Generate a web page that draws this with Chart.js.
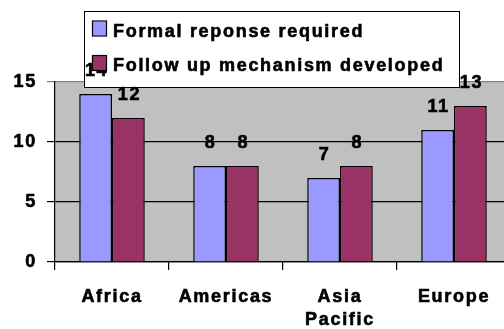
<!DOCTYPE html>
<html>
<head>
<meta charset="utf-8">
<script src="https://cdn.jsdelivr.net/npm/chart.js@4.4.0/dist/chart.umd.min.js"></script>
<style>
  html, body { margin: 0; padding: 0; background: #fff; overflow: hidden; }
  #wrap { position: relative; width: 512px; height: 329px; }
</style>
</head>
<body>
<div id="wrap"><canvas id="c"></canvas></div>
<script>
// ---- data ----
const categories = ['Africa', 'Americas', ['Asia', 'Pacific'], 'Europe'];
const seriesNames = ['Formal reponse required', 'Follow up mechanism developed'];
const formalResponse = [14, 8, 7, 11];
const followUp = [12, 8, 8, 13];
const yTicks = [0, 5, 10, 15];

const FONT = '"Liberation Sans", Arial, sans-serif';
const SPACING = '1.7px';
const STROKE = 0.6;
const colors = ['#9999FF', '#993366'];

Chart.defaults.font.family = FONT;
Chart.defaults.font.size = 18;
Chart.defaults.font.weight = 'bold';
Chart.defaults.color = '#000';

function heavyText(ctx, s, x, y) {
  ctx.lineWidth = STROKE;
  ctx.strokeStyle = '#000';
  ctx.fillStyle = '#000';
  ctx.strokeText(s, x, y);
  ctx.fillText(s, x, y);
}

const spacingPlugin = {
  id: 'spacing',
  beforeUpdate(c) { c.ctx.letterSpacing = SPACING; },
  beforeDraw(c) { c.ctx.letterSpacing = SPACING; }
};

const plotBg = {
  id: 'plotBg',
  beforeDraw(c) {
    const a = c.chartArea, ctx = c.ctx;
    ctx.save();
    ctx.fillStyle = '#C0C0C0';
    ctx.fillRect(a.left, a.top, a.right - a.left, a.bottom - a.top);
    ctx.restore();
  }
};

// legend box, then value labels, then legend keys/text on top
const overlay = {
  id: 'overlay',
  afterDraw(c) {
    const ctx = c.ctx;
    ctx.save();
    ctx.fillStyle = '#fff';
    ctx.fillRect(85, 12, 375, 75);
    ctx.strokeStyle = '#000';
    ctx.lineWidth = 1;
    ctx.strokeRect(84.5, 11.5, 375, 76);

    ctx.font = 'bold 18px ' + FONT;
    ctx.textAlign = 'center';
    ctx.textBaseline = 'alphabetic';
    c.data.datasets.forEach((ds, di) => {
      const meta = c.getDatasetMeta(di);
      meta.data.forEach((el, i) => {
        heavyText(ctx, String(ds.data[i]), el.x + 1, el.y - 18);
      });
    });

    ctx.textAlign = 'left';
    const rows = [36.5, 71];
    c.data.datasets.forEach((ds, i) => {
      const y = rows[i];
      ctx.fillStyle = ds.backgroundColor;
      ctx.fillRect(93, y - 15, 14, 14);
      ctx.strokeStyle = '#000';
      ctx.lineWidth = 1.2;
      ctx.strokeRect(92.5, y - 15.5, 14, 15);
      heavyText(ctx, ds.label, 113, y);
    });
    ctx.restore();
  }
};

new Chart(document.getElementById('c'), {
  type: 'bar',
  data: {
    labels: categories,
    datasets: [
      { label: seriesNames[0], data: formalResponse, backgroundColor: colors[0], borderColor: '#000', borderWidth: 1.5 },
      { label: seriesNames[1], data: followUp, backgroundColor: colors[1], borderColor: '#000', borderWidth: 1.5 }
    ]
  },
  options: {
    responsive: true,
    maintainAspectRatio: false,
    animation: false,
    devicePixelRatio: 1,
    layout: { padding: { top: 82, right: 1, left: 0, bottom: 0 } },
    plugins: { legend: { display: false }, tooltip: { enabled: false } },
    datasets: { bar: { categoryPercentage: 0.575, barPercentage: 1.0 } },
    scales: {
      x: {
        grid: { drawOnChartArea: false, drawTicks: true, tickLength: 8, color: '#000', lineWidth: 1.2, offset: true },
        border: { display: true, color: '#000', width: 1.2 },
        ticks: { padding: 15, font: { size: 18, weight: 'bold', lineHeight: 1.3 }, maxRotation: 0, autoSkip: false,
                 textStrokeColor: '#000', textStrokeWidth: STROKE },
        afterFit(s) { s.height = 67; }
      },
      y: {
        min: 0, max: 15,
        afterBuildTicks(s) { s.ticks = yTicks.map(v => ({ value: v })); },
        grid: {
          drawTicks: true, tickLength: 8, lineWidth: 1.2,
          color: ctx => (ctx.tick && ctx.tick.value === 15) ? '#808080' : '#000'
        },
        border: { display: true, color: '#000', width: 1.2 },
        ticks: { padding: 10, font: { size: 18, weight: 'bold' }, textStrokeColor: '#000', textStrokeWidth: STROKE },
        afterFit(s) { s.width = 55; }
      }
    }
  },
  plugins: [spacingPlugin, plotBg, overlay]
});
</script>
</body>
</html>
